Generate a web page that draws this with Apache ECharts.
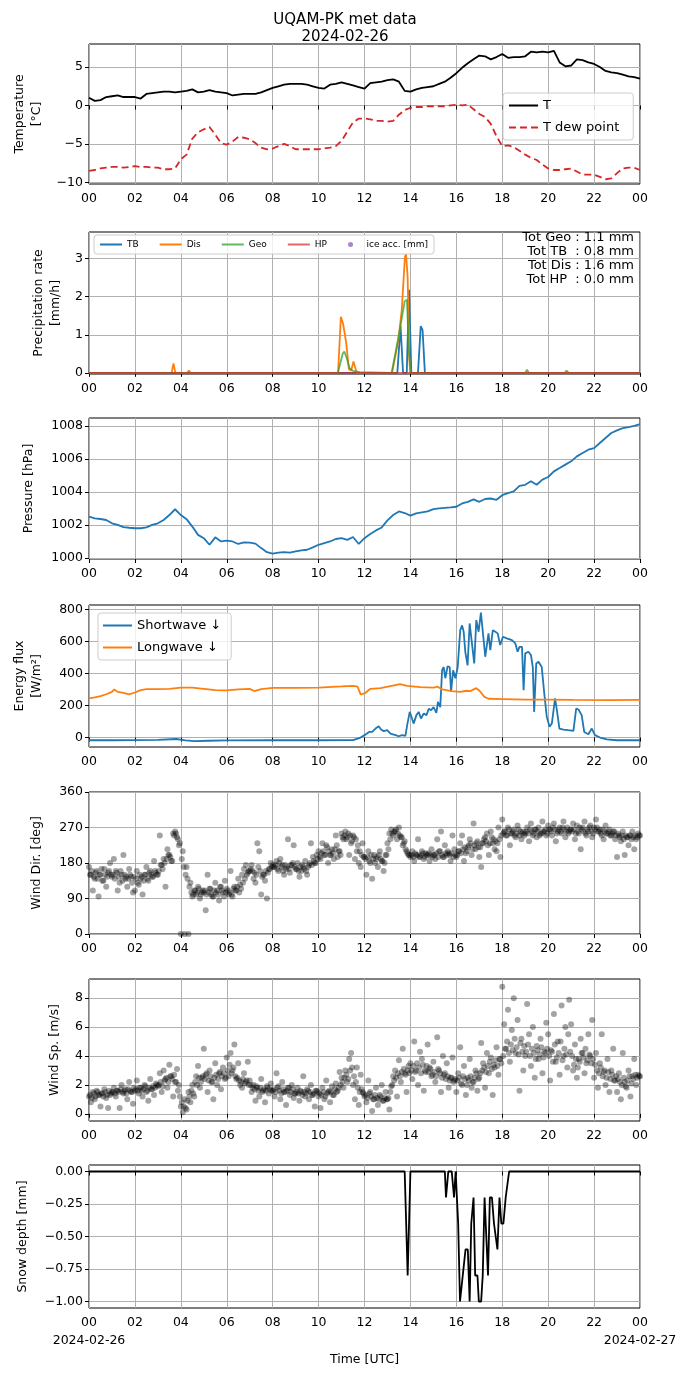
<!DOCTYPE html>
<html>
<head>
<meta charset="utf-8">
<script src="https://cdn.jsdelivr.net/npm/echarts@6/dist/echarts.min.js"></script>
<style>
html, body { margin: 0; padding: 0; background: #fff; }
#chart { width: 690px; height: 1377px; }
</style>
</head>
<body>
<div id="chart"></div>
<script>
// ---- data ----
// temperature, 15 min steps from 00 to 24 UTC
var tempT = [
    1.0, 0.6, 0.7, 1.1,   1.2, 1.3, 1.1, 1.1,   1.1, 0.9, 1.5, 1.6,   1.7, 1.8, 1.8, 1.7,
    1.8, 1.9, 2.1, 1.7,   1.8, 2.0, 1.8, 1.7,   1.6, 1.3, 1.4, 1.5,   1.5, 1.5, 1.7, 2.0,
    2.3, 2.5, 2.7, 2.8,   2.8, 2.8, 2.7, 2.5,   2.3, 2.2, 2.7, 2.8,   3.0, 2.8, 2.6, 2.4,
    2.2, 2.9, 3.0, 3.1,   3.3, 3.4, 3.1, 1.9,   1.8, 2.1, 2.3, 2.4,   2.5, 2.8, 3.1, 3.6,
    4.2, 4.9, 5.5, 6.0,   6.5, 6.4, 6.0, 6.3,   6.7, 6.2, 6.3, 6.3,   6.4, 7.0, 6.9, 7.0,
    6.9, 7.1, 5.6, 5.1,   5.2, 6.0, 5.9, 5.6,   5.4, 5.0, 4.5, 4.3,   4.2, 4.0, 3.8, 3.7,
    3.5
];
var tempDew = [
    -8.5, -8.4, -8.2, -8.1,   -8.0, -8.0, -8.1, -8.0,   -7.9, -8.0, -8.0, -8.1,   -8.1, -8.3, -8.3, -8.2,
    -7.0, -6.4, -4.3, -3.5,   -3.1, -2.8, -3.8, -4.9,   -5.1, -4.7, -4.1, -4.2,   -4.4, -4.9, -5.5, -5.7,
    -5.6, -5.3, -5.0, -5.3,   -5.7, -5.7, -5.7, -5.7,   -5.7, -5.6, -5.5, -5.3,   -4.6, -3.4, -2.2, -1.7,
    -1.7, -1.8, -2.0, -2.0,   -2.1, -2.0, -1.2, -0.6,   -0.3, -0.2, -0.2, -0.1,   -0.1, -0.1, -0.1, 0.0,
    0.1, 0.0, 0.1, -0.5,      -1.1, -1.5, -2.4, -4.0,   -5.3, -5.2, -5.4, -5.9,   -6.4, -6.8, -7.1, -7.7,
    -8.2, -8.4, -8.4, -8.3,   -8.2, -8.6, -9.0, -9.0,   -9.0, -9.3, -9.6, -9.5,   -8.8, -8.2, -8.1, -8.1,
    -8.4
];

// precipitation rate [mm/h]
var tbHours  = [0, 13.43, 13.57, 13.68, 13.84, 13.94, 14.04, 14.33, 14.45, 14.53, 14.63, 24];
var tbValues = [0, 0, 1.23, 0, 0, 2.18, 0, 0, 1.23, 1.12, 0, 0];
var disHours  = [0, 3.6, 3.68, 3.76, 4.28, 4.35, 4.42, 10.85, 10.97, 11.07, 11.2, 11.32, 11.42, 11.52, 11.58, 11.66,
                 13.2, 13.47, 13.62, 13.76, 13.81, 13.88, 13.94, 13.99, 24];
var disValues = [0, 0, 0.25, 0, 0, 0.06, 0, 0, 1.47, 1.28, 0.8, 0.1, 0.06, 0.3, 0.3, 0,
                 0, 0.84, 1.63, 3.04, 3.12, 2.5, 0.5, 0, 0];
var geoHours  = [0, 3.65, 3.72, 3.8, 10.84, 11.05, 11.12, 11.22, 11.35, 11.5, 11.8, 13.18, 13.5, 13.75, 13.85, 13.93, 14.02,
                 19.0, 19.08, 19.16, 20.72, 20.8, 20.9, 21.75, 21.82, 21.9, 22.85, 22.92, 23.0, 23.35, 23.42, 23.5, 24];
var geoValues = [0, 0, 0.04, 0, 0, 0.5, 0.56, 0.4, 0.12, 0.05, 0.02, 0, 1.0, 1.88, 1.92, 0.6, 0,
                 0, 0.08, 0, 0, 0.06, 0, 0, 0.03, 0, 0, 0.04, 0, 0, 0.03, 0, 0];
var hpHours  = [0, 24];
var hpValues = [0, 0];
var precipTotals = ['Tot Geo : 1.1 mm', 'Tot TB  : 0.8 mm', 'Tot Dis : 1.6 mm', 'Tot HP  : 0.0 mm'];

// pressure [hPa], 15 min steps
var pressure = [
    1002.5, 1002.4, 1002.36, 1002.3,    1002.1, 1002.0, 1001.87, 1001.83,   1001.8, 1001.8, 1001.85, 1002.0,
    1002.1, 1002.3, 1002.6, 1002.95,    1002.6, 1002.35, 1001.9, 1001.4,    1001.2, 1000.8, 1001.25, 1001.0,
    1001.05, 1001.0, 1000.85, 1000.95,  1000.93, 1000.87, 1000.6, 1000.35,  1000.26, 1000.32, 1000.36, 1000.32,
    1000.4, 1000.46, 1000.5, 1000.64,   1000.8, 1000.9, 1001.0, 1001.15,    1001.2, 1001.1, 1001.27, 1000.85,
    1001.2, 1001.45, 1001.67, 1001.85,  1002.28, 1002.6, 1002.82, 1002.72,  1002.56, 1002.7, 1002.76, 1002.82,
    1002.96, 1003.0, 1003.03, 1003.06,  1003.1, 1003.3, 1003.4, 1003.55,    1003.4, 1003.57, 1003.6, 1003.52,
    1003.8, 1003.93, 1004.03, 1004.37,  1004.43, 1004.64, 1004.43, 1004.74, 1004.9, 1005.24, 1005.44, 1005.65,
    1005.85, 1006.15, 1006.35, 1006.55, 1006.65, 1006.96, 1007.26, 1007.56, 1007.72, 1007.86, 1007.92, 1008.0,
    1008.1
];

// radiation [W/m2]
var swHours = [0, 1, 2, 3, 3.8, 4.2, 4.6, 5.2, 6, 8, 10, 11.5, 11.83, 12.0, 12.2, 12.33, 12.48, 12.62, 12.72, 12.84, 12.99,
    13.13, 13.35, 13.49, 13.64, 13.78, 13.86, 13.97, 14.07, 14.14, 14.26, 14.36, 14.46, 14.58, 14.7, 14.8, 14.9,
    15.01, 15.13, 15.2, 15.3, 15.38, 15.45, 15.52, 15.62, 15.71, 15.77, 15.86, 15.96, 16.06, 16.17, 16.25, 16.32,
    16.39, 16.49, 16.58, 16.68, 16.78, 16.87, 16.97, 17.07, 17.16, 17.26, 17.33, 17.4, 17.48, 17.59, 17.7, 17.8,
    17.91, 18.03, 18.2, 18.42, 18.57, 18.67, 18.75, 18.86, 18.93, 19.0, 19.14, 19.25, 19.33, 19.39, 19.48, 19.58,
    19.72, 19.83, 19.94, 20.06, 20.16, 20.3, 20.38, 20.49, 20.67, 20.88, 21.1, 21.22, 21.32, 21.46, 21.57, 21.75,
    21.9, 22.04, 22.26, 22.55, 22.99, 24];
var swValues = [-17, -17, -16, -14, -9, -18, -22, -20, -18, -17, -17, -16, 0, 15, 35, 35, 56, 70, 50, 40, 46,
    25, 15, 8, 15, 10, 77, 160, 119, 87, 140, 160, 119, 150, 140, 180, 170,
    190, 154, 223, 190, 420, 440, 370, 445, 440, 285, 420, 370, 440, 670, 700, 660,
    535, 450, 712, 587, 462, 733, 660, 780, 650, 504, 504, 650, 545, 670, 660, 650,
    577, 629, 619, 608, 587, 535, 566, 566, 296, 525, 535, 515, 440, 160, 462, 473,
    440, 275, 129, 67, 87, 244, 171, 56, 50, 46, 42, 181, 175, 140, 35, 21,
    56, 15, 0, -12, -17, -17];
var lwHours = [0, 0.25, 0.5, 0.75, 1.0, 1.1, 1.25, 1.5, 1.75, 2.0, 2.25, 2.5, 3.0, 3.5, 4.0, 4.5, 5.0, 5.5, 6.0, 6.5,
    7.0, 7.2, 7.5, 8.0, 9.0, 10.0, 11.0, 11.5, 11.7, 11.83, 12.0, 12.26, 12.7, 13.13, 13.54, 13.86, 14.43, 15.01,
    15.19, 15.38, 15.81, 16.17, 16.43, 16.6, 16.87, 17.01, 17.22, 17.41, 18.06, 19.07, 19.94, 21.1, 22.7, 24];
var lwValues = [244, 250, 258, 270, 285, 300, 285, 279, 270, 281, 296, 302, 302, 304, 312, 312, 304, 296, 294, 300,
    304, 290, 302, 310, 310, 312, 319, 323, 317, 269, 275, 304, 308, 321, 333, 323, 315, 312,
    317, 300, 290, 285, 292, 290, 308, 292, 254, 242, 240, 237, 237, 235, 233, 235];

// wind direction [deg], 5 min steps (12 per hour), two interleaved samples
var windDir = [
    170, 150, 110, 140, 160, 95, 150, 135, 165, 120, 155, 180,
    145, 190, 160, 110, 130, 150, 200, 140, 120, 165, 145, 105,
    110, 160, 125, 140, 100, 150, 170, 135, 160, 145, 185, 155,
    150, 250, 175, 190, 120, 215, 200, 185, 255, 260, 245, 225,
    0, 210, 0, 170, 0, 130, 95, 110, 100, 120, 90, 105,
    105, 60, 150, 115, 100, 95, 130, 110, 85, 120, 105, 135,
    115, 100, 160, 95, 120, 110, 140, 125, 150, 165, 175, 155,
    160, 175, 140, 130, 230, 210, 100, 150, 135, 90, 165, 180,
    175, 170, 185, 160, 190, 175, 150, 165, 240, 155, 175, 225,
    165, 180, 145, 160, 170, 185, 150, 175, 230, 195, 180, 200,
    210, 190, 230, 200, 225, 180, 200, 215, 190, 250, 195, 210,
    255, 240, 260, 245, 200, 230, 250, 190, 210, 180, 170, 230,
    195, 150, 210, 180, 140, 200, 190, 170, 210, 185, 160, 200,
    230, 255, 265, 250, 260, 240, 270, 245, 225, 235, 210, 200,
    195, 210, 185, 200, 240, 195, 210, 190, 205, 200, 185, 215,
    200, 190, 240, 210, 260, 195, 225, 200, 205, 185, 250, 215,
    195, 210, 230, 250, 185, 205, 220, 240, 200, 280, 215, 235,
    195, 170, 230, 245, 255, 200, 260, 230, 215, 210, 270, 195,
    290, 260, 250, 270, 225, 255, 265, 245, 275, 250, 240, 260,
    255, 270, 235, 280, 250, 265, 245, 270, 255, 285, 260, 250,
    275, 265, 250, 280, 235, 260, 270, 255, 285, 245, 270, 260,
    265, 280, 240, 275, 255, 215, 270, 285, 250, 260, 275, 245,
    270, 290, 260, 265, 250, 240, 275, 255, 265, 250, 260, 240,
    195, 250, 235, 260, 200, 245, 225, 250, 260, 215, 240, 255,
    250
];
var windDirB = [
    150, 160, 145, 155, 140, 150, 165, 135, 150, 145, 160, 150,
    150, 140, 155, 145, 160, 135, 150, 145, 140, 150, 130, 145,
    140, 130, 150, 145, 135, 150, 140, 155, 150, 145, 160, 150,
    160, 175, 165, 180, 190, 200, 195, 185, 250, 255, 240, 230,
    190, 170, 150, 140, 120, 105, 100, 110, 105, 115, 100, 110,
    110, 100, 105, 115, 95, 110, 105, 100, 120, 110, 95, 105,
    110, 105, 100, 115, 110, 120, 105, 115, 130, 140, 150, 160,
    165, 160, 155, 150, 170, 160, 145, 150, 160, 155, 165, 170,
    170, 175, 165, 180, 170, 160, 175, 170, 165, 175, 180, 170,
    165, 160, 170, 175, 165, 160, 170, 180, 175, 185, 180, 190,
    195, 205, 210, 200, 220, 210, 200, 205, 215, 225, 210, 200,
    245, 250, 240, 255, 250, 235, 245, 240, 225, 210, 200, 195,
    190, 195, 185, 200, 190, 180, 195, 200, 190, 185, 180, 200,
    215, 240, 255, 260, 265, 255, 250, 245, 230, 215, 205, 200,
    200, 195, 205, 200, 195, 200, 205, 195, 200, 205, 200, 195,
    200, 205, 195, 210, 200, 195, 205, 210, 200, 205, 195, 200,
    200, 210, 205, 215, 220, 210, 225, 230, 215, 225, 230, 220,
    220, 230, 240, 235, 225, 230, 245, 240, 235, 230, 240, 250,
    255, 260, 250, 265, 255, 260, 250, 255, 265, 260, 255, 250,
    260, 255, 265, 260, 255, 265, 260, 250, 255, 260, 265, 255,
    265, 260, 270, 265, 255, 265, 260, 270, 265, 260, 255, 265,
    260, 265, 255, 260, 270, 265, 260, 255, 265, 270, 260, 255,
    265, 270, 260, 255, 265, 260, 255, 260, 250, 255, 260, 250,
    255, 245, 250, 240, 250, 245, 250, 240, 245, 250, 245, 250
];

// wind speed [m/s], same sampling
var windSpeed = [
    1.2, 0.8, 1.5, 1.0, 1.6, 1.3, 0.5, 1.4, 1.7, 1.1, 0.4, 1.3,
    1.5, 1.8, 1.2, 1.6, 0.4, 2.0, 1.4, 1.7, 1.0, 2.2, 1.5, 0.7,
    1.6, 2.3, 1.4, 1.8, 1.2, 2.0, 1.5, 0.9, 2.4, 1.7, 1.3, 2.1,
    1.9, 2.8, 1.5, 3.0, 2.4, 1.8, 3.4, 2.6, 1.2, 2.2, 3.1, 2.0,
    0.5, 0.1, 1.0, 0.3, 1.5, 0.8, 2.0, 1.2, 2.6, 3.3, 1.8, 2.5,
    4.5, 2.7, 1.5, 3.0, 2.2, 1.0, 3.5, 2.0, 2.8, 1.7, 3.2, 2.4,
    3.9, 2.6, 4.2, 3.0, 4.8, 2.4, 3.5, 2.0, 1.8, 2.8, 2.2, 3.6,
    2.3, 1.5, 2.0, 0.9, 1.8, 1.2, 2.4, 1.6, 0.8, 1.9, 1.4, 2.1,
    1.6, 1.2, 2.8, 1.9, 1.0, 2.2, 1.5, 0.6, 1.8, 1.3, 2.0, 1.1,
    1.4, 1.8, 0.9, 1.5, 2.6, 1.2, 1.7, 1.0, 2.0, 1.3, 0.5, 1.6,
    1.2, 0.4, 1.8, 1.0, 2.3, 1.5, 0.8, 1.9, 1.3, 2.1, 1.6, 2.9,
    2.5, 1.8, 3.0, 2.2, 3.8, 4.2, 2.0, 1.0, 3.2, 0.6, 2.7, 1.5,
    1.2, 0.8, 2.3, 1.5, 0.2, 1.0, 1.8, 0.6, 1.3, 2.0, 0.9, 1.5,
    1.0, 0.3, 1.9, 2.6, 3.0, 1.2, 3.7, 2.2, 4.5, 2.8, 1.5, 3.3,
    3.5, 2.4, 5.0, 3.0, 2.0, 4.3, 3.8, 1.6, 2.9, 4.8, 3.2, 2.6,
    3.6, 2.2, 5.3, 3.0, 1.5, 4.0, 2.8, 3.5, 1.8, 2.5, 3.9, 2.3,
    1.5, 2.8, 4.6, 2.0, 3.3, 1.3, 2.5, 3.8, 1.8, 2.2, 3.0, 1.6,
    2.5, 4.9, 3.5, 1.8, 4.2, 2.8, 3.9, 1.3, 3.2, 4.6, 2.7, 3.8,
    8.8, 6.2, 4.5, 7.2, 3.6, 5.8, 8.0, 4.2, 6.5, 1.6, 5.2, 3.0,
    4.0, 7.6, 5.5, 3.3, 6.0, 2.5, 4.7, 3.8, 5.2, 2.8, 4.3, 6.3,
    5.5, 2.3, 4.3, 6.9, 3.6, 5.0, 2.7, 7.5, 4.0, 6.0, 3.2, 7.9,
    6.2, 3.0, 4.8, 2.5, 3.8, 5.2, 4.2, 2.8, 3.5, 5.5, 4.0, 6.5,
    2.5, 4.2, 1.8, 3.5, 5.5, 2.9, 2.0, 3.8, 1.5, 3.0, 4.5, 2.3,
    1.5, 2.8, 1.0, 4.2, 2.2, 1.8, 3.0, 1.2, 2.6, 3.8, 2.0, 2.7,
    2.6
];
var windSpeedB = [
    1.3, 1.1, 1.4, 1.2, 1.5, 1.3, 1.4, 1.2, 1.5, 1.3, 1.6, 1.4,
    1.5, 1.4, 1.6, 1.5, 1.7, 1.5, 1.6, 1.4, 1.7, 1.6, 1.5, 1.8,
    1.7, 1.6, 1.8, 1.6, 1.7, 1.9, 1.6, 1.8, 1.7, 1.9, 1.8, 2.0,
    2.0, 2.2, 1.9, 2.3, 2.5, 2.2, 2.6, 2.4, 2.7, 2.2, 1.6, 1.2,
    0.8, 0.5, 0.4, 0.9, 1.2, 1.6, 1.4, 2.2, 2.0, 2.5, 2.2, 2.6,
    2.4, 2.8, 2.3, 2.6, 2.2, 2.5, 2.7, 2.4, 2.9, 2.6, 2.8, 2.5,
    3.0, 3.4, 2.8, 3.2, 2.6, 2.5, 2.3, 2.2, 2.4, 2.1, 2.3, 2.0,
    2.0, 1.8, 1.7, 1.9, 1.6, 1.8, 1.5, 1.7, 1.6, 1.8, 1.7, 1.6,
    1.7, 1.5, 1.8, 1.6, 1.4, 1.7, 1.5, 1.6, 1.8, 1.5, 1.7, 1.4,
    1.5, 1.4, 1.6, 1.3, 1.5, 1.4, 1.6, 1.5, 1.3, 1.4, 1.6, 1.5,
    1.4, 1.3, 1.5, 1.2, 1.4, 1.6, 1.5, 1.3, 1.7, 1.5, 1.8, 2.0,
    2.2, 2.5, 2.7, 2.4, 3.0, 3.2, 2.6, 2.2, 1.8, 1.5, 1.7, 1.4,
    1.3, 1.1, 1.4, 1.2, 1.0, 1.3, 1.1, 1.0, 1.2, 0.9, 1.1, 1.0,
    1.1, 1.5, 2.0, 2.3, 2.5, 2.8, 2.6, 2.9, 3.1, 2.7, 3.0, 2.8,
    3.0, 3.3, 2.9, 3.5, 3.2, 2.8, 3.4, 3.0, 3.3, 2.9, 3.1, 2.7,
    2.9, 2.6, 3.1, 2.8, 2.5, 2.7, 2.4, 2.6, 2.3, 2.5, 2.2, 2.4,
    2.3, 2.5, 2.1, 2.6, 2.4, 2.0, 2.3, 2.6, 2.2, 2.5, 2.8, 2.4,
    2.8, 3.0, 3.2, 2.9, 3.3, 3.6, 3.1, 3.4, 3.7, 3.3, 3.8, 3.5,
    4.0, 4.5, 5.0, 4.2, 4.8, 4.4, 5.2, 4.6, 4.1, 4.9, 4.3, 4.7,
    4.3, 4.8, 4.0, 4.5, 4.2, 3.8, 4.4, 4.1, 4.6, 3.9, 4.2, 4.5,
    4.0, 4.4, 3.6, 4.8, 3.9, 4.2, 5.0, 3.7, 4.5, 4.1, 5.5, 4.3,
    4.0, 3.4, 3.8, 3.2, 3.6, 4.2, 3.9, 4.5, 3.7, 4.1, 3.5, 3.8,
    3.4, 3.0, 2.8, 3.2, 2.6, 3.0, 2.5, 2.9, 2.4, 2.7, 2.3, 2.6,
    2.4, 2.2, 2.0, 2.5, 1.9, 2.3, 2.6, 2.1, 2.4, 2.7, 2.5, 2.6
];

// snow depth [mm]
var snowHours  = [0, 13.75, 13.88, 14.0, 15.5, 15.55, 15.65, 15.8, 15.9, 15.97, 16.08, 16.16, 16.22, 16.4, 16.5, 16.58,
                  16.65, 16.75, 16.82, 16.92, 16.98, 17.08, 17.15, 17.23, 17.38, 17.46, 17.55, 17.64, 17.72, 17.79,
                  17.88, 17.96, 18.05, 18.15, 18.22, 18.3, 24];
var snowValues = [0, 0, -0.8, 0, 0, -0.2, 0, 0, -0.2, 0, -0.4, -1.0, -1.0, -0.6, -0.6, -1.0,
                  -0.4, -0.2, -0.8, -0.8, -1.0, -1.0, -0.8, -0.2, -0.8, -0.2, -0.2, -0.4, -0.4, -0.6,
                  -0.2, -0.4, -0.4, -0.2, -0.2, 0, 0];

// tick marks
var tempTicks = [-10, -5, 0, 5];
var precipTicks = [0, 1, 2, 3];
var pressureTicks = [1000, 1002, 1004, 1006, 1008];
var fluxTicks = [0, 200, 400, 600, 800];
var dirTicks = [0, 90, 180, 270, 360];
var speedTicks = [0, 2, 4, 6, 8];
var snowTicks = [-1, -0.75, -0.5, -0.25, 0];

// ---- build ----
function steps(values, step, offset) {
    return values.map(function (v, i) { return [(i + (offset || 0)) * step, v]; });
}
function pairs(xs, ys) {
    return xs.map(function (x, i) { return [x, ys[i]]; });
}
function minus(v) { return String(v).replace('-', '\u2212'); }
function hh(v) { var h = v % 24; return (h < 10 ? '0' : '') + h; }

var FONT = 'DejaVu Sans';
var LINE_ICON = 'path://M0,0H29V2H0Z';
var DASH_ICON = 'path://M0,0H7V2H0Z M11,0H18V2H11Z M22,0H29V2H22Z';
var SMALL_ICON = 'path://M0,0H22V2H0Z';
var gridTops = [44, 232, 418, 605, 792, 979, 1165];
var gridHeights = [140, 142, 141, 142, 142, 142, 143];

var grids = [], xAxes = [], yAxes = [];
gridTops.forEach(function (t, i) {
    grids.push({ left: 89, width: 551, top: t, height: gridHeights[i], show: true,
        borderColor: '#000', borderWidth: 1, backgroundColor: 'transparent' });
    var last = i === gridTops.length - 1;
    xAxes.push({
        type: 'value', gridIndex: i, min: 0, max: 24, interval: 2,
        axisLine: { show: false },
        axisTick: { show: true, length: 4, lineStyle: { color: '#000' } },
        axisLabel: {
            fontSize: 12.5, color: '#000', margin: 6, fontFamily: FONT, lineHeight: 18,
            formatter: function (v) {
                if (!last) return hh(v);
                if (v === 0) return '00\n2024-02-26';
                if (v === 24) return '00\n2024-02-27';
                return hh(v);
            }
        },
        splitLine: { show: true, lineStyle: { color: '#b0b0b0', width: 1 } },
        name: last ? 'Time [UTC]' : '', nameLocation: 'middle', nameGap: 45,
        nameTextStyle: { fontSize: 12.5, color: '#000', fontFamily: FONT }
    });
});

function yAxis(i, min, max, ticks, name, gap, fmt) {
    return {
        type: 'value', gridIndex: i, min: min, max: max,
        axisLine: { show: false },
        axisTick: { show: true, length: 4, lineStyle: { color: '#000' }, customValues: ticks },
        axisLabel: { fontSize: 12.5, color: '#000', margin: 6, fontFamily: FONT, customValues: ticks,
            formatter: fmt || minus },
        splitLine: { show: true, lineStyle: { color: '#b0b0b0', width: 1 } },
        name: name, nameLocation: 'middle', nameGap: gap,
        nameTextStyle: { fontSize: 12.5, color: '#000', fontFamily: FONT, lineHeight: 17 }
    };
}
yAxes.push(yAxis(0, -10.22, 8.0, tempTicks, 'Temperature\n[°C]', 44));
yAxes.push(yAxis(1, -0.03, 3.7, precipTicks, 'Precipitation rate\n[mm/h]', 25));
yAxes.push(yAxis(2, 999.94, 1008.47, pressureTicks, 'Pressure [hPa]', 52));
yAxes.push(yAxis(3, -59, 827, fluxTicks, 'Energy flux\n[W/m²]', 44));
yAxes.push(yAxis(4, 0, 360, dirTicks, 'Wind Dir. [deg]', 44));
yAxes.push(yAxis(5, -0.5, 9.33, speedTicks, 'Wind Sp. [m/s]', 26));
yAxes.push(yAxis(6, -1.05, 0.05, snowTicks, 'Snow depth [mm]', 58,
    function (v) { return minus(v.toFixed(2)); }));

function line(name, idx, data, color, width, type) {
    return {
        name: name, type: 'line', xAxisIndex: idx, yAxisIndex: idx, data: data,
        symbol: 'none', showSymbol: false,
        lineStyle: { color: color, width: width, type: type || 'solid' },
        itemStyle: { color: color }
    };
}
function dots(name, idx, data) {
    return { name: name, type: 'scatter', xAxisIndex: idx, yAxisIndex: idx, data: data,
        symbolSize: 6, itemStyle: { color: 'rgba(0,0,0,0.45)' } };
}

var series = [
    line('T', 0, steps(tempT, 0.25), '#000000', 1.8),
    line('T dew point', 0, steps(tempDew, 0.25), '#d62728', 1.8, [7, 4]),
    line('TB', 1, pairs(tbHours, tbValues), '#1f77b4', 1.8),
    line('Dis', 1, pairs(disHours, disValues), '#ff7f0e', 1.8),
    line('Geo', 1, pairs(geoHours, geoValues), 'rgba(44,160,44,0.75)', 1.8),
    line('HP', 1, pairs(hpHours, hpValues), 'rgba(214,39,40,0.7)', 1.8),
    { name: 'ice acc. [mm]', type: 'scatter', xAxisIndex: 1, yAxisIndex: 1, data: [],
      symbol: 'circle', symbolSize: 5, itemStyle: { color: '#9467bd' } },
    line('Pressure', 2, steps(pressure, 0.25), '#1f77b4', 1.8),
    line('Shortwave ↓', 3, pairs(swHours, swValues), '#1f77b4', 1.8),
    line('Longwave ↓', 3, pairs(lwHours, lwValues), '#ff7f0e', 1.8),
    dots('Wind Dir', 4, steps(windDir, 1 / 12)),
    dots('Wind Dir B', 4, steps(windDirB, 1 / 12, 0.5)),
    dots('Wind Sp', 5, steps(windSpeed, 1 / 12)),
    dots('Wind Sp B', 5, steps(windSpeedB, 1 / 12, 0.5)),
    line('Snow depth', 6, pairs(snowHours, snowValues), '#000000', 1.8)
];

var legendBox = { backgroundColor: 'rgba(255,255,255,0.8)', borderColor: '#cccccc', borderWidth: 1,
    borderRadius: 3, selectedMode: false };

var titles = [{
    text: 'UQAM-PK met data\n2024-02-26', left: 'center', top: 7,
    textStyle: { fontSize: 15, fontWeight: 'normal', color: '#000', fontFamily: FONT, lineHeight: 17 }
}];
precipTotals.forEach(function (t, i) {
    titles.push({ text: t, right: 56, top: 231 + i * 14, padding: 0,
        textStyle: { fontSize: 13, fontWeight: 'normal', color: '#000', fontFamily: FONT, lineHeight: 14 } });
});

var option = {
    animation: false,
    textStyle: { fontFamily: FONT },
    title: titles,
    grid: grids,
    xAxis: xAxes,
    yAxis: yAxes,
    legend: [
        Object.assign({ data: [{ name: 'T', icon: LINE_ICON }, { name: 'T dew point', icon: DASH_ICON }],
            left: 503, top: 93, orient: 'vertical',
            itemWidth: 29, itemHeight: 12, itemGap: 9, padding: [6, 14, 6, 6],
            textStyle: { fontSize: 13, color: '#000', fontFamily: FONT } }, legendBox),
        Object.assign({ data: [{ name: 'TB', icon: SMALL_ICON }, { name: 'Dis', icon: SMALL_ICON },
                { name: 'Geo', icon: SMALL_ICON }, { name: 'HP', icon: SMALL_ICON },
                { name: 'ice acc. [mm]', icon: 'circle' }],
            left: 94, top: 235, orient: 'horizontal', itemWidth: 22, itemHeight: 5, itemGap: 21, padding: [5, 6],
            textStyle: { fontSize: 9, color: '#000', fontFamily: FONT } }, legendBox),
        Object.assign({ data: [{ name: 'Shortwave ↓', icon: LINE_ICON }, { name: 'Longwave ↓', icon: LINE_ICON }],
            left: 98, top: 613, orient: 'vertical',
            itemWidth: 29, itemHeight: 12, itemGap: 9, padding: [6, 10, 6, 5],
            textStyle: { fontSize: 13, color: '#000', fontFamily: FONT } }, legendBox)
    ],
    series: series
};

var chart = echarts.init(document.getElementById('chart'));
chart.setOption(option);
</script>
</body>
</html>
